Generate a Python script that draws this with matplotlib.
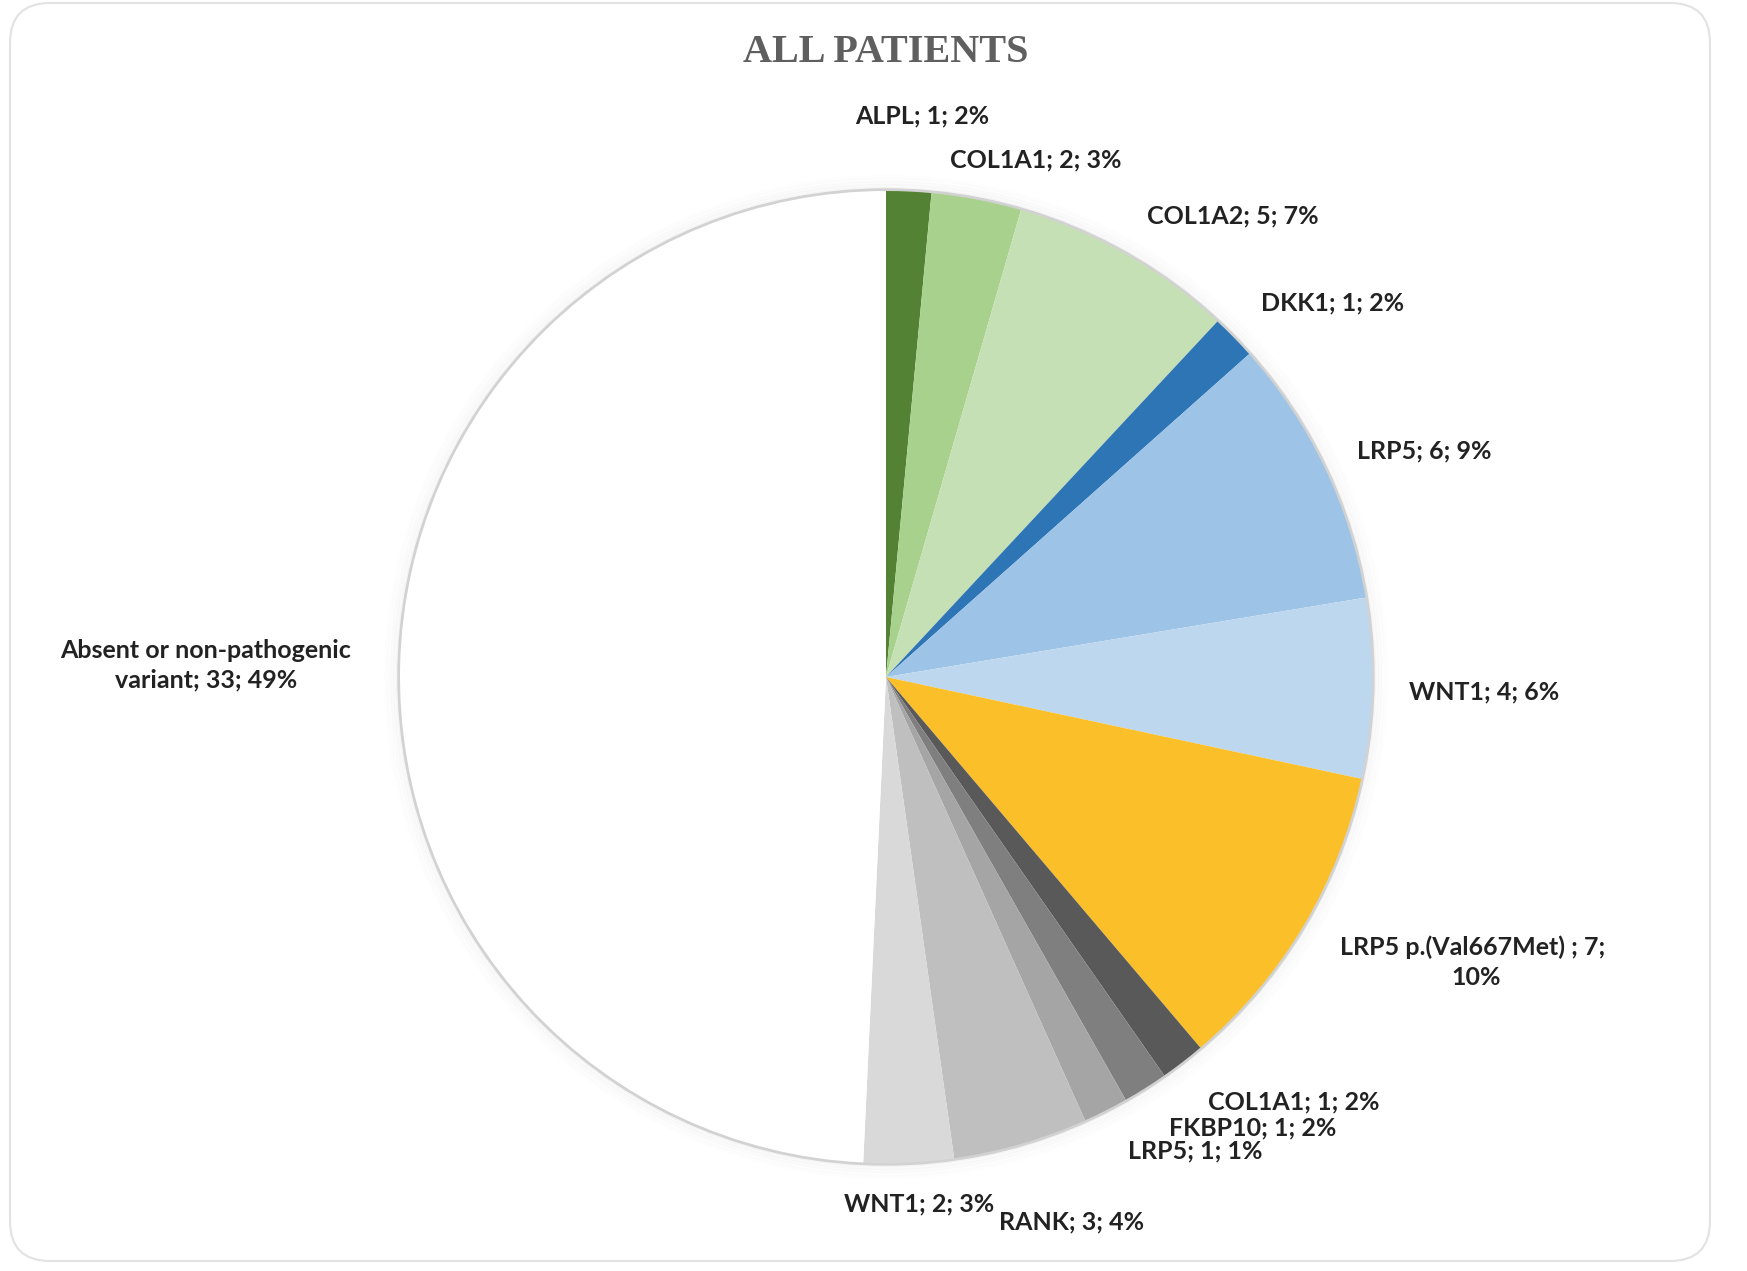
import matplotlib.pyplot as plt
from matplotlib.patches import Circle, FancyBboxPatch

# Gene groups, patient counts and percentage labels (clockwise from 12 o'clock)
genes = ['ALPL', 'COL1A1', 'COL1A2', 'DKK1', 'LRP5', 'WNT1',
         'LRP5 p.(Val667Met) ', 'COL1A1', 'FKBP10', 'LRP5', 'RANK', 'WNT1',
         'Absent or non-pathogenic\nvariant']
counts = [1, 2, 5, 1, 6, 4, 7, 1, 1, 1, 3, 2, 33]
pct_labels = ['2%', '3%', '7%', '2%', '9%', '6%', '\n10%', '2%', '2%', '1%', '4%', '3%', '49%']

colors = ['#548235', '#a9d18e', '#c5e0b4', '#2e75b6', '#9dc3e6', '#bdd7ee',
          '#fbbf2a', '#595959', '#7f7f7f', '#a5a5a5', '#bfbfbf', '#d9d9d9', '#ffffff']

# label anchor positions (pixel coords, y down)
label_pos = [(922, 116), (1036, 160), (1233, 216), (1333, 303), (1424, 451),
             (1484, 692), (1476, 962), (1294, 1102), (1253, 1128), (1195, 1151),
             (1072, 1222), (919, 1204), (206, 665)]

W, H = 1747, 1271
cx, cy, r = 886, 677, 486

fig = plt.figure(figsize=(W / 100, H / 100), dpi=100)
ax = fig.add_axes([0, 0, 1, 1])

# outer frame
ax.add_patch(FancyBboxPatch((10, 3), 1700, 1258, boxstyle='round,pad=0,rounding_size=40',
                            fill=False, edgecolor='#e2e2e2', linewidth=1.5, zorder=0))

# soft shadow around the pie
for i, a in enumerate([0.06, 0.045, 0.03, 0.02, 0.01]):
    ax.add_patch(Circle((cx, cy), r + 2 + i * 3, facecolor='none',
                        edgecolor='#9a9a9a', linewidth=3, alpha=a, zorder=1))
ax.add_patch(Circle((cx, cy), r + 1, facecolor='none', edgecolor='#d2d2d2',
                    linewidth=2.5, zorder=1))

# y axis runs downward, so counter-clockwise in data is clockwise on screen
ax.pie(counts, colors=colors, startangle=-90, counterclock=True,
       center=(cx, cy), radius=r, frame=True,
       wedgeprops=dict(linewidth=0, edgecolor='none'))
ax.set_xlim(0, W)
ax.set_ylim(H, 0)
ax.set_aspect('equal')
ax.axis('off')

for g, n, p, (x, y) in zip(genes, counts, pct_labels, label_pos):
    txt = f'{g}; {n}; {p}'
    ax.text(x, y, txt, ha='center', va='center', fontsize=18, fontweight='bold',
            family='Lato', color='#222222', linespacing=1.35)

ax.text(cx, 52, 'ALL PATIENTS', ha='center', va='center', fontsize=29,
        fontweight='bold', family='Liberation Serif', color='#5f5f5f')

plt.savefig('out.png', dpi=100)
